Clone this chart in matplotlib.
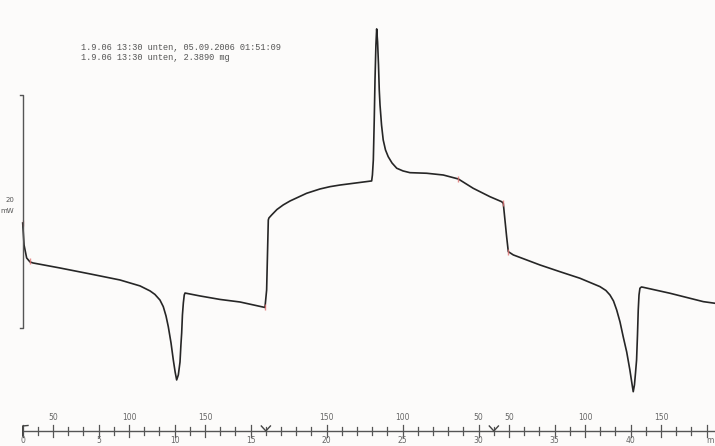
import numpy as np
import matplotlib
matplotlib.use("Agg")
from matplotlib import pyplot as plt

# DSC run: heat flow (mW, arbitrary zero) against time (min)
# segment 1: heating 30 -> 190 C
t_heat1 = [0.0, 0.09, 0.26, 0.48, 0.68, 2.45, 4.43, 6.40, 7.72, 8.38, 8.70, 9.03,
           9.25, 9.43, 9.58, 9.76, 9.91, 10.03, 10.13, 10.24, 10.35, 10.41, 10.46,
           10.51, 10.57, 10.63, 10.68, 11.66, 12.98, 14.30, 15.94]
hf_heat1 = [9.01, 7.12, 6.01, 5.67, 5.58, 5.15, 4.64, 4.12, 3.61, 3.18, 2.88, 2.40,
            1.83, 1.03, 0.11, -1.29, -2.75, -3.78, -4.46, -4.03, -2.92, -1.46, -0.43,
            1.12, 2.15, 2.83, 3.00, 2.75, 2.45, 2.23, 1.76]
# segment 2: cooling 190 -> 40 C
t_cool = [16.05, 16.16, 16.20, 16.38, 16.73, 17.14, 17.59, 18.68, 19.56, 20.22,
          20.88, 22.96, 23.01, 23.07, 23.13, 23.18, 23.24, 23.29, 23.35, 23.41,
          23.46, 23.51, 23.61, 23.72, 23.87, 24.05, 24.30, 24.61, 25.02, 25.48,
          26.58, 27.67, 28.66, 29.64, 30.74, 31.51, 31.62, 31.84, 31.95]
hf_cool = [3.26, 9.27, 9.44, 9.70, 10.17, 10.56, 10.90, 11.56, 11.93, 12.13,
           12.27, 12.62, 13.13, 14.42, 17.85, 21.29, 24.29, 25.67, 24.55, 22.58,
           20.43, 19.14, 17.42, 16.14, 15.28, 14.70, 14.16, 13.71, 13.48, 13.33,
           13.28, 13.13, 12.79, 11.99, 11.27, 10.84, 10.70, 7.84, 6.55]
# segment 3: second heating from 40 C
t_heat2 = [32.28, 34.03, 35.35, 36.66, 37.98, 38.37, 38.64, 38.87, 39.08, 39.30,
           39.51, 39.74, 39.95, 40.09, 40.17, 40.25, 40.32, 40.39, 40.45, 40.50,
           40.55, 40.61, 40.71, 40.83, 42.59, 44.78, 45.55]
hf_heat2 = [6.27, 5.41, 4.83, 4.27, 3.55, 3.22, 2.83, 2.32, 1.55, 0.52,
            -0.75, -2.06, -3.61, -4.81, -5.47, -4.89, -3.86, -2.75, -0.60, 1.55,
            2.83, 3.41, 3.52, 3.49, 2.98, 2.26, 2.12]

# evaluation marks (red) along the curve
mark_times = [0.0, 0.45, 15.94, 28.66, 31.62, 31.95]

# time axis / temperature axis
time_ticks = list(range(0, 46))
time_labels = [0, 5, 10, 15, 20, 25, 30, 35, 40]
temp_pos = [2, 7, 12, 20, 25, 30, 32, 37, 42, 46]
temp_labels = ["50", "100", "150", "150", "100", "50", "50", "100", "150", "200"]
segment_marks = [16, 31]

header = ["1.9.06 13:30 unten, 05.09.2006 01:51:09",
          "1.9.06 13:30 unten, 2.3890 mg"]

t_all = np.array(t_heat1 + t_cool + t_heat2)
hf_all = np.array(hf_heat1 + hf_cool + hf_heat2)

fig = plt.figure(figsize=(7.15, 4.46), dpi=100)
fig.patch.set_facecolor("#fcfbfa")
ax = fig.add_axes([0, 0, 1, 1])
ax.set_facecolor("#fcfbfa")
ax.set_xlim(-1.493, 45.55)
ax.set_ylim(-10.13, 28.15)
ax.axis("off")

pxy = 11.65   # pixels per mW

ax.plot(t_all, hf_all, color="#262626", lw=1.2, solid_joinstyle="round")
ax.plot(mark_times, np.interp(mark_times, t_all, hf_all), ls="none",
        marker="|", ms=4, color="#e07070", alpha=0.8)

# scale bar, 20 mW
ax.plot([-0.2, 0, 0, -0.2], [0, 0, 20, 20], color="#555555", lw=1.0)
ax.text(-0.55, 11.0, "20", fontsize=5, color="#555555", ha="right", va="center")
ax.text(-0.6, 10.0, "mW", fontsize=5, color="#555555", ha="right", va="center")

# header
for i, line in enumerate(header):
    ax.text(3.85, 24.05 - i * 10 / pxy, line, family="Liberation Mono",
            fontsize=6.2, color="#555555", va="center")

# bottom time axis
y_ax = -103 / pxy
ax.plot([0, 45.55], [y_ax, y_ax], color="#555555", lw=1.0)
for t in time_ticks:
    h = 6 if (t % 5 == 0 or t in temp_pos) else 4
    ax.plot([t, t], [y_ax - h / pxy, y_ax + h / pxy], color="#555555", lw=0.9)
for t in time_labels:
    ax.text(t, y_ax - 10 / pxy, str(t), fontsize=5.5, color="#666666",
            ha="center", va="center")
ax.text(45.2, y_ax - 10 / pxy, "m", fontsize=5.5, color="#666666",
        ha="center", va="center")
for t, lab in zip(temp_pos, temp_labels):
    ax.text(t, y_ax + 13 / pxy, lab, fontsize=5.5, color="#666666",
            ha="center", va="center", clip_on=True)
# segment boundary marks
for t in segment_marks:
    ax.plot([t - 0.3, t, t + 0.3], [y_ax + 5 / pxy, y_ax, y_ax + 5 / pxy],
            color="#444444", lw=1.0)
# start flag
ax.plot([0, 0, 0.35], [y_ax - 5 / pxy, y_ax + 5 / pxy, y_ax + 5.5 / pxy],
        color="#444444", lw=1.0)

plt.savefig("out.png", dpi=100, facecolor=fig.get_facecolor())
